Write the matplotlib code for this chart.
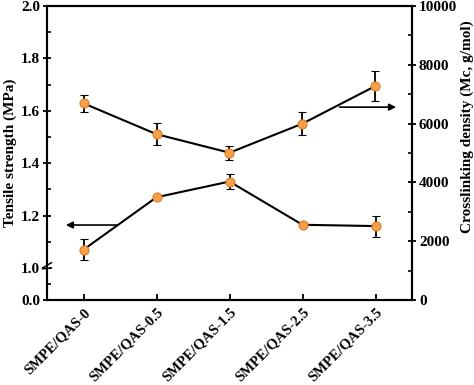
import numpy as np
import matplotlib
matplotlib.use("Agg")
import matplotlib.pyplot as plt
from matplotlib.ticker import FixedLocator

categories = ["SMPE/QAS-0", "SMPE/QAS-0.5", "SMPE/QAS-1.5", "SMPE/QAS-2.5", "SMPE/QAS-3.5"]
tensile = [1.07, 1.27, 1.33, 1.165, 1.16]
tensile_err = [0.04, 0.008, 0.03, 0.008, 0.04]
crosslink = [6690, 5640, 5010, 6000, 7280]
crosslink_err = [280, 370, 240, 380, 520]
left_ticks = [0.0, 1.0, 1.2, 1.4, 1.6, 1.8, 2.0]
right_ticks = [0, 2000, 4000, 6000, 8000, 10000]

plt.rcParams['font.family'] = ['Liberation Serif', 'DejaVu Serif']
plt.rcParams['font.weight'] = 'bold'

fig = plt.figure(figsize=(4.74, 3.85), dpi=100)
ax = fig.add_axes([47/474, 1-300/385, (412-47)/474, (300-6)/385])
ax2 = ax.twinx()

k = 32/262.0
def fwd(v):
    v = np.asarray(v, dtype=float)
    return np.where(v >= 1, v, 1 - (1 - v) * k)
def inv(u):
    u = np.asarray(u, dtype=float)
    return np.where(u >= 1, u, 1 - (1 - u) / k)
ax.set_yscale('function', functions=(fwd, inv))

x = np.arange(len(categories))
mk = dict(marker='o', markersize=6.5, markerfacecolor='#F5A04A', markeredgecolor='#E07B20', markeredgewidth=0.8)
ax.errorbar(x, tensile, yerr=tensile_err, color='black', lw=1.5, capsize=3, elinewidth=1.3, capthick=1.3, zorder=3, **mk)
ax2.errorbar(x, crosslink, yerr=crosslink_err, color='black', lw=1.5, capsize=3, elinewidth=1.3, capthick=1.3, zorder=3, **mk)

ax.set_xlim(-0.5, 4.5)
ax.set_ylim(0, 2.0)
ax2.set_ylim(0, 10000)

ax.yaxis.set_major_locator(FixedLocator(left_ticks))
ax.set_yticklabels([f"{t:.1f}" for t in left_ticks])
ax.yaxis.set_minor_locator(FixedLocator([0.5, 1.1, 1.3, 1.5, 1.7, 1.9]))
ax2.yaxis.set_major_locator(FixedLocator(right_ticks))
ax2.set_yticklabels([str(t) for t in right_ticks])
ax2.yaxis.set_minor_locator(FixedLocator([1000, 3000, 5000, 7000, 9000]))

ax.set_xticks(x)
ax.set_xticklabels(categories, rotation=45, ha='right', rotation_mode='anchor', fontsize=10.5, fontweight='bold')

for a in (ax, ax2):
    for s in a.spines.values():
        s.set_linewidth(1.5)
ax.tick_params(axis='y', which='major', direction='inout', length=6, width=1.3, labelsize=11, pad=2)
ax.tick_params(axis='y', which='minor', direction='in', length=3, width=1.2)
ax.tick_params(axis='x', which='major', direction='in', length=4, width=1.3, pad=4)
ax2.tick_params(axis='y', which='major', direction='inout', length=6, width=1.3, labelsize=11, pad=2)
ax2.tick_params(axis='y', which='minor', direction='in', length=3, width=1.2)

ax.set_ylabel("Tensile strength (MPa)", fontsize=11, fontweight='bold', rotation=90, va='center')
ax.yaxis.set_label_coords(-0.101, 0.5)
ax2.set_ylabel("Crosslinking density (Mc, g/mol)", fontsize=11, fontweight='bold', rotation=90, va='center')
ax2.yaxis.set_label_coords(1.152, 0.588)

# arrows
ax.annotate("", xy=(-0.28, 1.164), xytext=(0.5, 1.164),
            arrowprops=dict(arrowstyle='-|>', color='black', lw=1.2, mutation_scale=10))
ax2.annotate("", xy=(4.32, 6560), xytext=(3.47, 6560),
            arrowprops=dict(arrowstyle='-|>', color='black', lw=1.2, mutation_scale=10))

# axis break marks on left spine near 1.0
tr = ax.get_yaxis_transform()
yb = float(fwd(0.985))
ax.plot([0, 0], [yb - 0.012, yb + 0.012], transform=tr, color='white', lw=3, clip_on=False, zorder=5)
ax.plot([-0.012, 0.012], [yb + 0.002, yb + 0.022], transform=tr, color='black', lw=1.1, clip_on=False, zorder=6)
ax.plot([-0.012, 0.012], [yb - 0.022, yb - 0.002], transform=tr, color='black', lw=1.1, clip_on=False, zorder=6)

fig.savefig("out.png", dpi=100)
